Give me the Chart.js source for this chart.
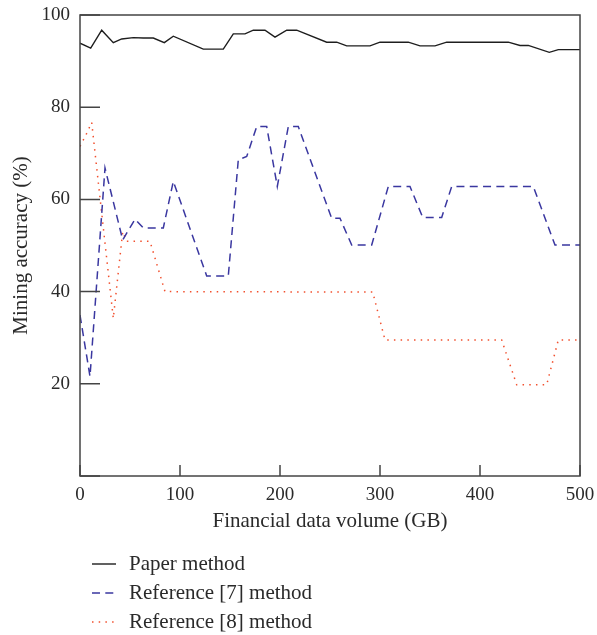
<!DOCTYPE html>
<html>
<head>
<meta charset="utf-8">
<script src="https://cdn.jsdelivr.net/npm/chart.js@4"></script>
<style>
  html, body { margin: 0; padding: 0; background: #fff; }
  #box { width: 597px; height: 635px; }
</style>
</head>
<body>
<div id="box"><canvas id="grafico"></canvas></div>
<script>
// Valores (x em GB, y em %)
const paperX = [0, 10.7, 21.7, 33.3, 41.7, 53.3, 63.3, 73.3, 84.3, 93.3, 123.3, 143.3, 153.3, 165, 173.3, 185, 195, 206.7, 216.7, 246.7, 256.7, 266.7, 290, 300, 328.3, 340, 355, 366.7, 428.3, 440, 448.3, 469.3, 478.3, 500];
const paperY = [93.9, 92.8, 96.7, 94.0, 94.8, 95.1, 95.0, 95.0, 94.0, 95.4, 92.6, 92.6, 95.9, 95.9, 96.7, 96.7, 95.2, 96.7, 96.7, 94.1, 94.1, 93.3, 93.3, 94.1, 94.1, 93.3, 93.3, 94.1, 94.1, 93.4, 93.4, 91.9, 92.5, 92.5];

const ref7X = [0, 10, 25, 42.7, 55, 63.3, 83.3, 93.3, 126.7, 148.3, 158.3, 166.7, 176.7, 186.7, 197.3, 208.3, 218.3, 251.7, 260, 271.7, 291.7, 308.3, 330, 342.7, 361.7, 371.7, 453.3, 475, 500];
const ref7Y = [34.9, 21.6, 66.8, 51.2, 55.7, 53.8, 53.8, 63.9, 43.4, 43.4, 68.6, 69.3, 75.8, 75.8, 62.8, 75.8, 75.8, 55.9, 55.9, 50.1, 50.1, 62.8, 62.8, 56.1, 56.1, 62.8, 62.8, 50.1, 50.1];

const ref8X = [0, 6, 11.7, 33.3, 42.7, 46.7, 70, 85, 292.7, 305, 421.7, 436.7, 466.7, 478.3, 500];
const ref8Y = [71.5, 74.0, 76.7, 34.2, 53.0, 50.9, 50.9, 40.0, 39.9, 29.5, 29.5, 19.8, 19.8, 29.5, 29.5];

const nomes = ['Paper method', 'Reference [7] method', 'Reference [8] method'];

const fonte = 'Liberation Serif';
const corTexto = '#2a2a2a';

// junta x e y em pontos
function pontos(xs, ys) {
    return xs.map((x, i) => ({ x: x, y: ys[i] }));
}

// moldura, marcas para dentro e legenda desenhadas a mao
const extras = {
    id: 'extras',
    afterDatasetsDraw(chart) {
        const ctx = chart.ctx;
        const a = chart.chartArea;
        const sx = chart.scales.x;
        const sy = chart.scales.y;
        ctx.save();
        ctx.strokeStyle = '#444';
        ctx.lineWidth = 1.5;
        ctx.strokeRect(a.left, a.top, a.right - a.left, a.bottom - a.top);
        ctx.beginPath();
        sy.ticks.forEach(t => {
            const y = sy.getPixelForValue(t.value);
            ctx.moveTo(a.left, y);
            ctx.lineTo(a.left + 20, y);
        });
        sx.ticks.forEach(t => {
            const x = sx.getPixelForValue(t.value);
            ctx.moveTo(x, a.bottom);
            ctx.lineTo(x, a.bottom - 11);
        });
        ctx.stroke();

        // legenda
        ctx.font = '21px "' + fonte + '"';
        ctx.textBaseline = 'middle';
        ctx.fillStyle = corTexto;
        chart.data.datasets.forEach((ds, i) => {
            const y = 564 + i * 29;
            ctx.beginPath();
            ctx.strokeStyle = ds.borderColor;
            ctx.lineWidth = ds.borderWidth;
            ctx.setLineDash(ds.borderDash || []);
            ctx.moveTo(92, y);
            ctx.lineTo(116, y);
            ctx.stroke();
            ctx.setLineDash([]);
            ctx.fillText(ds.label, 129, y);
        });
        ctx.restore();
    }
};

new Chart(document.getElementById('grafico').getContext('2d'), {
    type: 'line',
    data: {
        datasets: [
            {
                label: nomes[0],
                data: pontos(paperX, paperY),
                borderColor: '#1e1e1e',
                borderWidth: 1.4,
                pointRadius: 0,
                tension: 0
            },
            {
                label: nomes[1],
                data: pontos(ref7X, ref7Y),
                borderColor: '#3a37a0',
                borderWidth: 1.5,
                borderDash: [8, 5.3],
                pointRadius: 0,
                tension: 0
            },
            {
                label: nomes[2],
                data: pontos(ref8X, ref8Y),
                borderColor: '#f2502e',
                borderWidth: 1.5,
                borderDash: [1.5, 5.2],
                pointRadius: 0,
                tension: 0
            }
        ]
    },
    options: {
        responsive: true,
        maintainAspectRatio: false,
        animation: false,
        layout: { padding: { top: 15, right: 17, bottom: 90, left: 0 } },
        plugins: {
            legend: { display: false },
            tooltip: { enabled: false }
        },
        scales: {
            x: {
                type: 'linear',
                min: 0,
                max: 500,
                grid: { display: false, drawTicks: false },
                border: { display: false },
                ticks: {
                    stepSize: 100,
                    padding: 8,
                    color: corTexto,
                    font: { family: fonte, size: 19 }
                },
                title: {
                    display: true,
                    text: 'Financial data volume (GB)',
                    color: corTexto,
                    font: { family: fonte, size: 21 },
                    padding: { top: 0, bottom: 11 }
                },
                afterFit(scale) {
                    scale.height = 69;
                    scale.paddingLeft = 0;
                    scale.paddingRight = 0;
                }
            },
            y: {
                min: 0,
                max: 100,
                grid: { display: false, drawTicks: false },
                border: { display: false },
                ticks: {
                    stepSize: 20,
                    padding: 10,
                    color: corTexto,
                    font: { family: fonte, size: 19 },
                    // o zero nao aparece no eixo y da figura
                    callback: v => (v === 0 ? '' : v)
                },
                title: {
                    display: true,
                    text: 'Mining accuracy (%)',
                    color: corTexto,
                    font: { family: fonte, size: 21 },
                    padding: { top: 9, bottom: 0 }
                },
                afterFit(scale) {
                    scale.width = 80;
                    scale.paddingTop = 0;
                    scale.paddingBottom = 0;
                }
            }
        }
    },
    plugins: [extras]
});
</script>
</body>
</html>
